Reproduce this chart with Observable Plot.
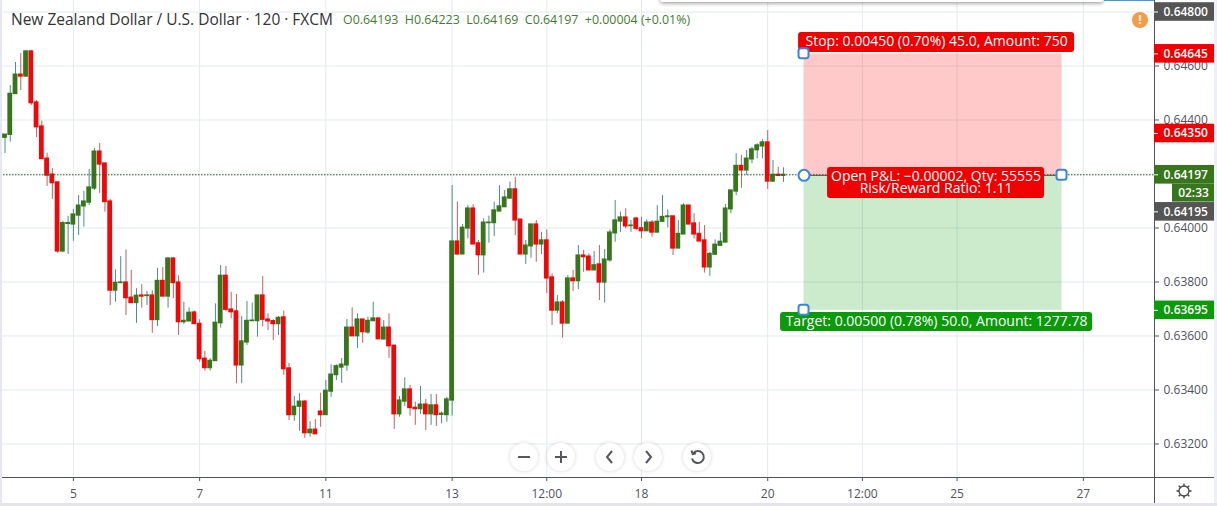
<!DOCTYPE html>
<html><head><meta charset="utf-8">
<script src="https://cdn.jsdelivr.net/npm/d3@7"></script>
<script src="https://cdn.jsdelivr.net/npm/@observablehq/plot@0.6"></script>
<style>
html,body{margin:0;padding:0;background:#fff}
#wrap{position:relative;width:1217px;height:506px;overflow:hidden;font-family:"Open Sans",sans-serif}
#wrap svg.plot{display:block;position:absolute;left:0;top:0}
.abs{position:absolute}
.btn{position:absolute;width:28px;height:28px;border-radius:50%;background:#fff;box-shadow:0 0 4px rgba(0,0,0,.16);display:flex;align-items:center;justify-content:center}
</style></head><body>
<div id="wrap"></div>
<script>
// Prices in 1e-5 units, one entry per 2-hour candle
const opens=[64334,64345,64496,64568,64561,64654,64465,64376,64257,64198,
64169,63913,64015,64013,64046,64080,64094,64146,64283,64239,
64098,63768,63796,63798,63742,63722,63750,63748,63750,63659,
63804,63746,63887,63798,63651,63654,63687,63645,63516,63481,
63507,63647,63823,63698,63691,63491,63576,63655,63655,63750,
63661,63655,63644,63669,63480,63307,63338,63357,63240,63253,
63320,63307,63394,63455,63483,63491,63631,63599,63661,63613,
63655,63665,63587,63631,63564,63310,63357,63402,63334,63329,
63346,63310,63343,63308,63307,63361,63950,63902,63998,64072,
63943,63899,64018,64018,64061,64077,64109,64143,64031,63902,
63932,64013,63939,63954,63817,63694,63724,63646,63813,63803,
63898,63894,63843,63865,63798,63880,63980,64024,64039,64007,
64035,63999,63988,64020,63983,64023,64040,64043,63924,63976,
64083,64017,63978,63954,63854,63901,63934,63946,64069,64135,
64230,64213,64254,64288,64302,64317,64172,64197,64193];
const highs=[64346,64528,64613,64646,64657,64657,64472,64396,64277,64220,
64169,64025,64043,64069,64120,64136,64217,64294,64313,64239,
64106,63845,63894,63919,63843,63775,63790,63765,63768,63851,
63854,63890,63890,63823,63725,63704,63692,63660,63543,63516,
63719,63861,63857,63762,63754,63672,63728,63722,63750,63820,
63682,63660,63672,63692,63499,63376,63386,63361,63283,63290,
63388,63435,63493,63493,63517,63661,63704,63682,63661,63670,
63725,63665,63657,63682,63564,63376,63445,63417,63355,63413,
63365,63383,63383,63318,63373,64157,64096,64013,64083,64086,
63954,64034,64044,64096,64157,64139,64170,64188,64031,63954,
64013,64028,63984,63993,63830,63750,63731,63824,63843,63935,
63917,63904,63913,63935,63920,63993,64102,64059,64071,64028,
64039,64040,64030,64028,64083,64120,64067,64043,64028,64090,
64083,64053,64021,64009,63910,63956,63982,64087,64139,64275,
64269,64287,64299,64312,64327,64361,64250,64225,64223];
const lows=[64276,64318,64496,64509,64557,64454,64335,64255,64154,64106,
63907,63909,63902,63951,63972,64003,64083,64139,64128,64059,
63713,63725,63794,63676,63722,63647,63703,63713,63610,63635,
63746,63703,63738,63602,63643,63654,63644,63503,63470,63470,
63507,63629,63690,63664,63423,63423,63565,63655,63596,63633,
63620,63583,63602,63454,63287,63284,63247,63221,63225,63236,
63262,63307,63373,63435,63425,63470,63599,63554,63573,63606,
63655,63588,63587,63517,63254,63299,63339,63303,63269,63310,
63250,63269,63265,63275,63281,63303,63899,63902,63960,63939,
63824,63833,63944,63968,64061,64077,64106,63972,63902,63865,
63888,63873,63902,63757,63639,63682,63592,63646,63765,63772,
63836,63843,63843,63731,63722,63873,63947,63983,63997,63984,
63991,63960,63988,63966,63983,64023,64001,63898,63924,63976,
64013,63960,63950,63833,63821,63901,63934,63946,64053,64120,
64147,64194,64238,64256,64256,64143,64169,64192,64169];
const closes=[64346,64497,64568,64561,64654,64462,64373,64255,64194,64166,
63913,64018,64018,64050,64083,64098,64150,64283,64235,64096,
63768,63797,63798,63740,63722,63749,63746,63750,63659,63804,
63746,63887,63796,63651,63656,63686,63644,63514,63481,63508,
63649,63823,63697,63688,63491,63580,63656,63657,63750,63660,
63654,63644,63667,63477,63307,63338,63357,63240,63253,63236,
63307,63397,63457,63488,63494,63631,63599,63661,63614,63656,
63665,63588,63631,63562,63310,63361,63402,63333,63329,63346,
63310,63343,63307,63312,63365,63950,63902,64001,64072,63939,
63899,64020,64020,64065,64080,64113,64143,64028,63902,63935,
64013,63939,63954,63813,63694,63724,63646,63813,63803,63898,
63892,63843,63862,63798,63883,63983,64028,64039,64006,64009,
63997,63988,64020,63983,64023,64041,64043,63924,63978,64083,
64013,63976,63950,63854,63904,63938,63949,64072,64139,64230,
64213,64257,64291,64306,64317,64172,64197,64193,64197];

const xTickIdx=[13,37,61,85,103,121,145,163,181,205];
const xTickLabels=["5","7","11","13","12:00","18","20","12:00","25","27"];
const yTicks=[0.632,0.634,0.636,0.638,0.64,0.642,0.644,0.646,0.648];
const entry=0.64195, stop=0.64645, target=0.63695, last=0.64197;
const posStart=151.9, posEnd=200.95;
const tagPrices=[0.648,0.64645,0.6435,0.64197,0.64195,0.63695];
const tagTexts=["0.64800","0.64645","0.64350","0.64197","0.64195","0.63695"];
const tagFills=["#555555","#f00000","#f00000","#38761d","#555555","#0a9a0a"];
const tagShift=[0,0,0,0,36.5,0];

const xDomain=[-0.856,218.53], yDomain=[0.630759,0.648426];
const font='"Open Sans",sans-serif';
const candles=opens.map((o,i)=>({i,open:o/1e5,high:highs[i]/1e5,low:lows[i]/1e5,close:closes[i]/1e5}));
const up=candles.filter(d=>d.close>=d.open), down=candles.filter(d=>d.close<d.open);
const xEnd=xDomain[1];

const wick=(data,stroke)=>Plot.ruleX(data,{x:"i",y1:"low",y2:"high",stroke,strokeWidth:1});
const body=(data,fill)=>Plot.rect(data,{x1:"i",x2:"i",y1:"open",y2:"close",fill,insetLeft:-2.4,insetRight:-2.4,insetTop:-0.6,insetBottom:-0.6});

const tagMarks=tagPrices.flatMap((p,k)=>{
  const h=9;
  return [
    Plot.rect([p],{x1:()=>xEnd,x2:()=>xEnd,y1:d=>d,y2:d=>d,fill:tagFills[k],insetRight:-60,insetTop:-h-0.3+tagShift[k],insetBottom:-h-0.3-tagShift[k]}),
    Plot.ruleY([p],{x1:()=>xEnd,x2:()=>xEnd,insetRight:-4,stroke:"#fff",dy:tagShift[k]}),
    Plot.text([tagTexts[k]],{x:()=>xEnd,y:()=>p,text:d=>d,dx:9,dy:tagShift[k],textAnchor:"start",fill:"#fff",fontSize:12,fontWeight:600})
  ];
});
// countdown tag below the last price tag
const countdown=[
  Plot.rect([last],{x1:()=>xEnd,x2:()=>xEnd,y1:d=>d,y2:d=>d,fill:"#38761d",insetLeft:18,insetRight:-60,insetTop:-9+18.3,insetBottom:-9-18.3}),
  Plot.text(["02:33"],{x:()=>xEnd,y:()=>last,text:d=>d,dx:39,dy:18.3,textAnchor:"middle",fill:"#fff",fontSize:12,fontWeight:600})
];
const labelRect=(p,cx,hw,top,bottom,fill)=>Plot.rect([p],{x1:()=>cx,x2:()=>cx,y1:d=>d,y2:d=>d,fill,rx:3,insetLeft:-hw,insetRight:-hw,insetTop:top,insetBottom:bottom});
const labelText=(t,p,cx,dy)=>Plot.text([t],{x:()=>cx,y:()=>p,text:d=>d,dy,fill:"#fff",fontSize:14,lineHeight:0.84});
const handle=(x,p)=>Plot.rect([p],{x1:()=>x,x2:()=>x,y1:d=>d,y2:d=>d,inset:-5,rx:2.5,fill:"#fff",stroke:"#3a86d8",strokeWidth:2});

const chart=Plot.plot({
  width:1217,height:506,marginTop:0,marginBottom:29,marginLeft:0,marginRight:63,
  style:{fontFamily:font,background:"transparent"},
  x:{domain:xDomain,axis:null,label:null},
  y:{domain:yDomain,axis:null,label:null},
  marks:[
    Plot.gridX(xTickIdx,{stroke:"#e3eaef",strokeOpacity:1}),
    Plot.gridY(yTicks,{stroke:"#e3eaef",strokeOpacity:1}),
    Plot.rect([0],{x1:()=>posStart,x2:()=>posEnd,y1:()=>entry,y2:()=>stop,fill:"#ff0000",fillOpacity:0.21}),
    Plot.rect([0],{x1:()=>posStart,x2:()=>posEnd,y1:()=>entry,y2:()=>target,fill:"#009600",fillOpacity:0.2}),
    wick(up,"#4a8f86"),wick(down,"#c06060"),
    body(up,"#38761d"),body(down,"#ee0808"),
    Plot.ruleY([entry],{x1:()=>posStart,x2:()=>posEnd,stroke:"#7a4040"}),
    Plot.ruleY([last],{stroke:"#2a5c1a",strokeDasharray:"1.5,1.5",strokeWidth:1}),
    Plot.axisX(xTickIdx,{anchor:"bottom",label:null,tickSize:4,tickPadding:8,tickFormat:(d,i)=>xTickLabels[i],fontSize:12,color:"#50535e",stroke:"#50535e"}),
    Plot.axisY(yTicks,{anchor:"right",label:null,tickSize:4,tickPadding:5,tickFormat:d3.format(".5f"),fontSize:12,color:"#50535e",stroke:"#50535e"}),
    Plot.ruleX([xEnd],{stroke:"#50535e",insetBottom:-26}),
    Plot.ruleY([yDomain[0]],{stroke:"#50535e",insetRight:-60}),
    ...tagMarks,...countdown,
    labelRect(stop,177.1,138,-21.4,1.4,"#f00000"),
    labelText("Stop: 0.00450 (0.70%) 45.0, Amount: 750",stop,177.1,-11.4),
    labelRect(entry,177,108.5,-7.8,-23.2,"#f00000"),
    labelText("Open P&L: −0.00002, Qty: 55555\nRisk/Reward Ratio: 1.11",entry,177,7.8),
    labelRect(target,177.1,156,2.2,-21.2,"#0a9a0a"),
    labelText("Target: 0.00500 (0.78%) 50.0, Amount: 1277.78",target,177.1,12),
    handle(posStart,stop),
    Plot.dot([entry],{x:()=>posStart,y:d=>d,r:5.5,fill:"#fff",stroke:"#3a86d8",strokeWidth:2}),
    handle(posEnd,entry),
    handle(posStart,target)
  ]
});
const wrap=document.getElementById("wrap");
wrap.appendChild(chart);
const add=(html)=>wrap.insertAdjacentHTML("beforeend",html);
add(`<div class="abs" style="left:11px;top:8px;font-size:15.5px;color:#333;white-space:nowrap">New Zealand Dollar / U.S. Dollar · 120 · FXCM</div>`);
add(`<div class="abs" style="left:343px;top:11px;font-size:12.4px;color:#3f7d2c;white-space:nowrap">O0.64193&nbsp; H0.64223&nbsp; L0.64169&nbsp; C0.64197&nbsp; +0.00004 (+0.01%)</div>`);
add(`<div class="abs" style="left:0;top:0;width:2px;height:506px;background:#e6e7f2"></div>`);
add(`<div class="abs" style="left:1214px;top:0;width:3px;height:506px;background:#eef0f7"></div>`);
add(`<div class="abs" style="left:0;top:503px;width:1217px;height:3px;background:#e4e4ea"></div>`);
add(`<div class="abs" style="left:660px;top:-3px;width:443px;height:5px;background:#fff;box-shadow:0 1px 4px rgba(0,0,0,.45);border-radius:3px"></div>`);
add(`<div class="abs" style="left:1104px;top:0;width:50px;height:1px;background:#3a9be0"></div>`);
add(`<div class="abs" style="left:1132px;top:12px;width:16px;height:16px;border-radius:50%;background:#f59a45;color:#fff;font-size:12px;font-weight:700;line-height:16px;text-align:center">!</div>`);
const icon=(inner)=>`<svg width="18" height="18" viewBox="0 0 18 18" fill="none" stroke="#55585f" stroke-width="2">${inner}</svg>`;
const btns=[[524,icon('<path d="M3 9h12"/>')],[561,icon('<path d="M3 9h12M9 3v12"/>')],[610,icon('<path d="M11 3l-5 6 5 6"/>')],[648,icon('<path d="M7 3l5 6-5 6"/>')],[697,icon('<path d="M5 5.5a6 6 0 1 1-1 5M3.5 2.5l1.2 3.6 3.4-.8"/>')]];
btns.forEach(([x,s])=>add(`<div class="btn" style="left:${x-14}px;top:443px">${s}</div>`));
add(`<svg class="abs" style="left:1175px;top:482px" width="18" height="18" viewBox="0 0 18 18" fill="none" stroke="#444" stroke-width="1.3"><circle cx="9" cy="9" r="5"/><path d="M9 1.5v2.5M9 14v2.5M1.5 9H4M14 9h2.5M3.7 3.7l1.8 1.8M12.5 12.5l1.8 1.8M3.7 14.3l1.8-1.8M12.5 5.5l1.8-1.8"/></svg>`);
</script>
</body></html>
